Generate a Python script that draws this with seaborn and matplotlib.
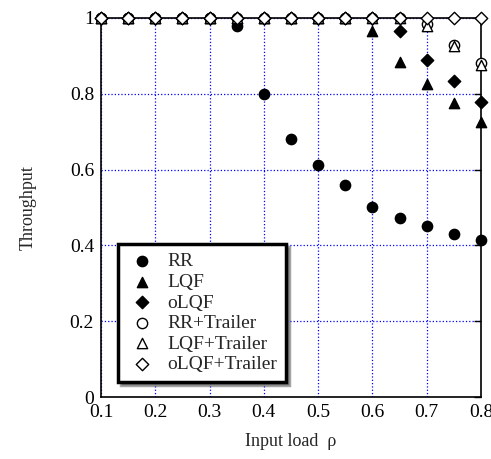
import numpy as np
import pandas as pd
import matplotlib
matplotlib.use('Agg')
import matplotlib.pyplot as plt
import seaborn as sns

# data
load = [0.1, 0.15, 0.2, 0.25, 0.3, 0.35, 0.4, 0.45, 0.5, 0.55, 0.6, 0.65, 0.7, 0.75, 0.8]
rr = [1, 1, 1, 1, 1, 0.98, 0.80, 0.68, 0.613, 0.56, 0.502, 0.472, 0.45, 0.43, 0.415]
lqf = [1, 1, 1, 1, 1, 1, 1, 1, 1, 1, 0.967, 0.883, 0.826, 0.776, 0.726]
olqf = [1, 1, 1, 1, 1, 1, 1, 1, 1, 1, 1, 0.967, 0.889, 0.834, 0.779]
rr_trailer = [1, 1, 1, 1, 1, 1, 1, 1, 1, 1, 1, 1, 0.985, 0.928, 0.88]
lqf_trailer = [1, 1, 1, 1, 1, 1, 1, 1, 1, 1, 1, 1, 0.98, 0.925, 0.875]
olqf_trailer = [1, 1, 1, 1, 1, 1, 1, 1, 1, 1, 1, 1, 1, 1, 1]

series = [
    ('RR', rr, 'o', True),
    ('LQF', lqf, '^', True),
    ('oLQF', olqf, 'D', True),
    ('RR+Trailer', rr_trailer, 'o', False),
    ('LQF+Trailer', lqf_trailer, '^', False),
    ('oLQF+Trailer', olqf_trailer, 'D', False),
]

sns.set_style('white')
plt.rcParams['font.family'] = ['Liberation Serif', 'DejaVu Serif']

fig = plt.figure(figsize=(4.91, 4.59), dpi=100)
ax = fig.add_axes([101 / 491, 1 - 397 / 459, 380 / 491, 379 / 459])

for name, vals, mk, filled in series:
    df = pd.DataFrame({'load': load, 'thr': vals})
    size = 40 if mk == 'D' else 55
    sns.scatterplot(data=df, x='load', y='thr', marker=mk, s=size,
                    color='black' if filled else 'white',
                    edgecolor='black', linewidth=1.0,
                    label=name, ax=ax, clip_on=False, zorder=3)

ax.set_xlim(0.1, 0.8)
ax.set_ylim(0, 1)
ax.set_xticks([0.1, 0.2, 0.3, 0.4, 0.5, 0.6, 0.7, 0.8])
ax.set_xticklabels(['0.1', '0.2', '0.3', '0.4', '0.5', '0.6', '0.7', '0.8'])
ax.set_yticks([0, 0.2, 0.4, 0.6, 0.8, 1])
ax.set_yticklabels(['0', '0.2', '0.4', '0.6', '0.8', '1'])
ax.tick_params(direction='in', length=5, width=1, top=True, right=True,
               labelsize=14, colors='black', pad=5)
ax.grid(True, color='blue', linestyle=':', linewidth=0.9)
ax.set_axisbelow(True)
for sp in ax.spines.values():
    sp.set_color('black')
    sp.set_linewidth(1.2)

ax.set_xlabel('Input load  ρ', fontsize=13, labelpad=9)
ax.set_ylabel('Throughput', fontsize=13, labelpad=24)

leg = ax.legend(loc='lower left', bbox_to_anchor=(0.045, 0.04), fontsize=14,
                frameon=True, fancybox=False, shadow=True, borderpad=0.45,
                labelspacing=0.15, handletextpad=0.5, borderaxespad=0,
                handlelength=1.6)
leg.get_frame().set_edgecolor('black')
leg.get_frame().set_linewidth(2.5)
leg.get_frame().set_alpha(1)

fig.savefig('out.png', dpi=100)
